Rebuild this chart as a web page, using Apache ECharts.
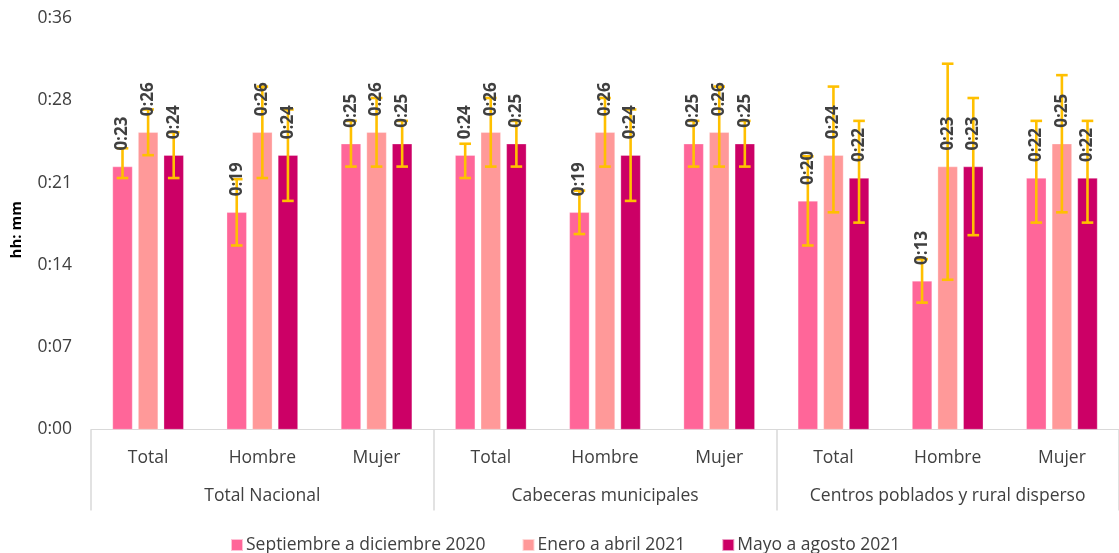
<!DOCTYPE html>
<html>
<head>
<meta charset="utf-8">
<script src="https://cdn.jsdelivr.net/npm/echarts@6/dist/echarts.min.js"></script>
<style>
html,body{margin:0;padding:0;background:#fff;}
#chart{width:1119px;height:553px;}
</style>
</head>
<body>
<div id="chart"></div>
<script>
// ---- data (minutes) ----
var subCategories = ['Total','Hombre','Mujer','Total','Hombre','Mujer','Total','Hombre','Mujer'];
var groups = ['Total Nacional','Cabeceras municipales','Centros poblados y rural disperso'];
var periods = ['Septiembre a diciembre 2020','Enero a abril 2021','Mayo a agosto 2021'];
var yTicks = [0, 7.2, 14.4, 21.6, 28.8, 36];

var sepValues = [23,19,25, 24,19,25, 20,13,22];
var eneValues = [26,26,26, 26,26,26, 24,23,25];
var mayValues = [24,24,25, 25,24,25, 22,23,22];

var sepLow  = [22.0,16.1,23.0, 22.0,17.1,23.0, 16.1,11.1,18.1];
var sepHigh = [24.6,21.9,27.0, 25.0,20.9,27.0, 23.9,14.9,27.0];
var eneLow  = [24.0,22.0,23.0, 23.0,23.0,23.0, 19.0,13.1,19.0];
var eneHigh = [28.0,30.0,29.0, 29.0,29.0,30.0, 30.0,32.0,31.0];
var mayLow  = [22.0,20.0,23.0, 23.0,20.0,23.0, 18.1,17.0,18.1];
var mayHigh = [26.0,28.0,27.0, 27.0,28.0,27.0, 27.0,29.0,27.0];

var colors = ['#FF6699','#FF9999','#CC0066'];
var FONT = 'Open Sans';
var FS = 17.5;
var BAR_W = 20, BAR_GAP = 5.6;

function fmt(v){ var m = Math.floor(v + 1e-6); return '0:' + (m < 10 ? '0' + m : m); }

var valueSets = [sepValues, eneValues, mayValues];
var lowSets = [sepLow, eneLow, mayLow];
var highSets = [sepHigh, eneHigh, mayHigh];

var errData = [];
for (var p = 0; p < 3; p++) {
  for (var i = 0; i < subCategories.length; i++) {
    errData.push([i, valueSets[p][i], lowSets[p][i], highSets[p][i], p]);
  }
}

var chart = echarts.init(document.getElementById('chart'));
var option = {
  animation: false,
  color: colors,
  textStyle: {fontFamily: FONT},
  grid: {left: 91, top: 18, width: 1035, bottom: 123.5, containLabel: false},
  legend: {
    left: 225, bottom: -6,
    itemWidth: 12, itemHeight: 12, itemGap: 36,
    icon: 'rect',
    textStyle: {fontFamily: FONT, fontSize: FS, color: '#404040', padding: [0,0,0,-2]},
    data: periods
  },
  xAxis: [
    {
      type: 'category', data: subCategories, position: 'bottom',
      axisLine: {lineStyle: {color: '#D9D9D9', width: 1}},
      axisTick: {show: false},
      axisLabel: {fontFamily: FONT, fontSize: FS, color: '#404040', margin: 20, interval: 0}
    },
    {
      type: 'category', data: groups, position: 'bottom',
      axisLine: {show: false},
      axisTick: {show: true, length: 81, interval: 0, lineStyle: {color: '#D9D9D9', width: 1.5}},
      axisLabel: {fontFamily: FONT, fontSize: FS, color: '#404040', margin: 58, interval: 0}
    }
  ],
  yAxis: {
    type: 'value', min: 0, max: 36, interval: 7.2,
    name: 'hh: mm', nameLocation: 'middle', nameGap: 67, nameRotate: 90,
    nameTextStyle: {fontFamily: FONT, fontSize: 15, fontWeight: 'bold', color: '#000', padding: [0,0,0,-12]},
    axisLine: {show: false}, axisTick: {show: false},
    splitLine: {show: false},
    axisLabel: {fontFamily: FONT, fontSize: FS, color: '#404040', margin: 19, formatter: fmt}
  },
  series: [
    {name: periods[0], type: 'bar', data: sepValues, barWidth: BAR_W, barGap: (BAR_GAP / BAR_W * 100) + '%', itemStyle: {color: colors[0], borderColor: 'rgba(255,255,255,0.6)', borderWidth: 0.5}},
    {name: periods[1], type: 'bar', data: eneValues, barWidth: BAR_W, barGap: (BAR_GAP / BAR_W * 100) + '%', itemStyle: {color: colors[1], borderColor: 'rgba(255,255,255,0.6)', borderWidth: 0.5}},
    {name: periods[2], type: 'bar', data: mayValues, barWidth: BAR_W, barGap: (BAR_GAP / BAR_W * 100) + '%', itemStyle: {color: colors[2], borderColor: 'rgba(255,255,255,0.6)', borderWidth: 0.5}},
    {
      type: 'custom', z: 5,
      data: errData,
      encode: {x: 0, y: [1, 2, 3]},
      renderItem: function (params, api) {
        var cat = api.value(0), val = api.value(1), lo = api.value(2), hi = api.value(3), p = api.value(4);
        var off = (p - 1) * (BAR_W + BAR_GAP);
        var base = api.coord([cat, val]);
        var x = base[0] + off;
        var yLo = api.coord([cat, lo])[1];
        var yHi = api.coord([cat, hi])[1];
        var cap = 5.8;
        var st = {stroke: '#FFC000', lineWidth: 2.6};
        return {
          type: 'group',
          children: [
            {type: 'line', shape: {x1: x, y1: yLo, x2: x, y2: yHi}, style: st, z2: 1},
            {type: 'line', shape: {x1: x - cap, y1: yLo, x2: x + cap, y2: yLo}, style: st, z2: 1},
            {type: 'line', shape: {x1: x - cap, y1: yHi, x2: x + cap, y2: yHi}, style: st, z2: 1},
            {
              type: 'text', z2: 10,
              x: x, y: base[1] - 16, rotation: Math.PI / 2,
              style: {
                text: fmt(val), fill: '#404040',
                font: 'bold 17px "' + FONT + '"',
                textAlign: 'left', textVerticalAlign: 'middle'
              }
            }
          ]
        };
      }
    }
  ]
};
chart.setOption(option);
</script>
</body>
</html>
